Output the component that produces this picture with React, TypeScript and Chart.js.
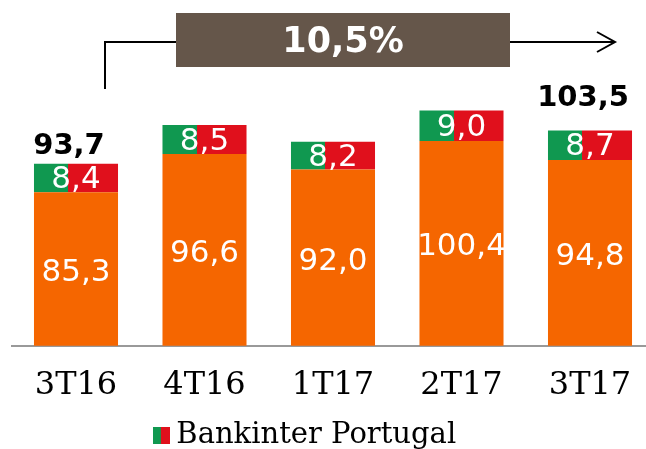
import React, { useEffect, useRef } from "react";
import { Chart, registerables } from "chart.js";

Chart.register(...registerables);

const categories = ["3T16", "4T16", "1T17", "2T17", "3T17"];
const spainValues = [85.3, 96.6, 92.0, 100.4, 94.8];
const portugalValues = [8.4, 8.5, 8.2, 9.0, 8.7];
const totals = [93.7, null, null, null, 103.5];
const growthLabel = "10,5%";
const legendLabel = "Bankinter Portugal";

const ORANGE = "#F56600";
const GREEN = "#109850";
const RED = "#E0101C";
const BROWN = "#65564A";
const SANS = '"DejaVu Sans", sans-serif';
const SERIF = '"DejaVu Serif", serif';
const fmt = (v: number) => v.toFixed(1).replace(".", ",");

function swatch() {
  const c = document.createElement("canvas");
  c.width = 17;
  c.height = 17;
  const g = c.getContext("2d")!;
  g.fillStyle = GREEN;
  g.fillRect(0, 0, 8, 17);
  g.fillStyle = RED;
  g.fillRect(8, 0, 9, 17);
  return c;
}

const overlay = {
  id: "overlay",
  afterLayout(chart: any) {
    const l = chart.legend;
    if (l) {
      l.left = 0;
      l.right = 617;
      l.top += 11;
      l.bottom += 11;
    }
  },
  afterDatasetsDraw(chart: any) {
    const { ctx } = chart;
    const bottom = chart.chartArea.bottom;
    const m0 = chart.getDatasetMeta(0).data;
    const m1 = chart.getDatasetMeta(1).data;
    ctx.save();
    ctx.textAlign = "center";
    ctx.textBaseline = "middle";
    ctx.fillStyle = "#fff";
    ctx.font = `31px ${SANS}`;
    m0.forEach((b: any, i: number) => {
      ctx.fillText(fmt(spainValues[i]), b.x, (b.y + bottom) / 2 + 4);
    });
    m1.forEach((b: any, i: number) => {
      ctx.fillText(fmt(portugalValues[i]), b.x, (b.y + b.base) / 2 + 2);
    });
    ctx.fillStyle = "#000";
    ctx.font = `bold 29px ${SANS}`;
    totals.forEach((t, i) => {
      if (t == null) return;
      const b = m1[i];
      ctx.fillText(fmt(t), b.x - 7, b.y + (i === 0 ? -17 : -32));
    });

    // growth arrow and box
    ctx.strokeStyle = "#000";
    ctx.lineWidth = 2;
    ctx.beginPath();
    ctx.moveTo(105, 89);
    ctx.lineTo(105, 42);
    ctx.lineTo(615, 42);
    ctx.moveTo(597, 32);
    ctx.lineTo(615, 42);
    ctx.lineTo(597, 52);
    ctx.stroke();
    ctx.fillStyle = BROWN;
    ctx.fillRect(176, 13, 334, 54);
    ctx.fillStyle = "#fff";
    ctx.font = `bold 35px ${SANS}`;
    ctx.fillText(growthLabel, 343, 43);
    ctx.restore();
  },
};

export default function App() {
  const ref = useRef<HTMLCanvasElement>(null);
  useEffect(() => {
    const chart = new Chart(ref.current!, {
      type: "bar",
      data: {
        labels: categories,
        datasets: [
          { label: "Bankinter España", data: spainValues, backgroundColor: ORANGE, stack: "s", barPercentage: 0.654, categoryPercentage: 1 },
          {
            label: legendLabel,
            data: portugalValues,
            stack: "s",
            barPercentage: 0.654,
            categoryPercentage: 1,
            backgroundColor: (c: any) => {
              const ch = c.chart;
              if (!ch.chartArea || !ch.scales.x) return RED;
              const x = ch.scales.x.getPixelForValue(c.dataIndex);
              const g = ch.ctx.createLinearGradient(x - 42, 0, x + 42, 0);
              g.addColorStop(0, GREEN);
              g.addColorStop(0.405, GREEN);
              g.addColorStop(0.405, RED);
              g.addColorStop(1, RED);
              return g;
            },
          },
        ],
      },
      options: {
        responsive: false,
        animation: false,
        layout: { padding: { left: 11.75, right: 5.75, top: 0, bottom: 0 } },
        plugins: {
          tooltip: { enabled: false },
          legend: {
            position: "bottom",
            labels: {
              font: { family: SERIF, size: 29 },
              color: "#000",
              padding: 5,
              usePointStyle: true,
              pointStyleWidth: 1,
              boxHeight: 17,
              generateLabels: () => [{ text: legendLabel, pointStyle: swatch(), fontColor: "#000", lineWidth: 0, strokeStyle: "transparent", datasetIndex: 1 }],
            },
          },
        },
        scales: {
          x: {
            stacked: true,
            grid: { display: false, drawTicks: false },
            border: { color: "#999", width: 2 },
            ticks: { color: "#000", font: { family: SERIF, size: 32 }, padding: 21, maxRotation: 0 },
            afterFit: (s: any) => { s.height = 59.2; },
          },
          y: { stacked: true, display: false, min: 40, max: 142 },
        },
      } as any,
      plugins: [overlay],
    });
    return () => chart.destroy();
  }, []);
  return (
    <div style={{ position: "absolute", left: 0, top: 0, width: 646, height: 449, overflow: "hidden", background: "#fff" }}>
      <canvas ref={ref} width={660} height={449} style={{ display: "block" }} />
    </div>
  );
}
